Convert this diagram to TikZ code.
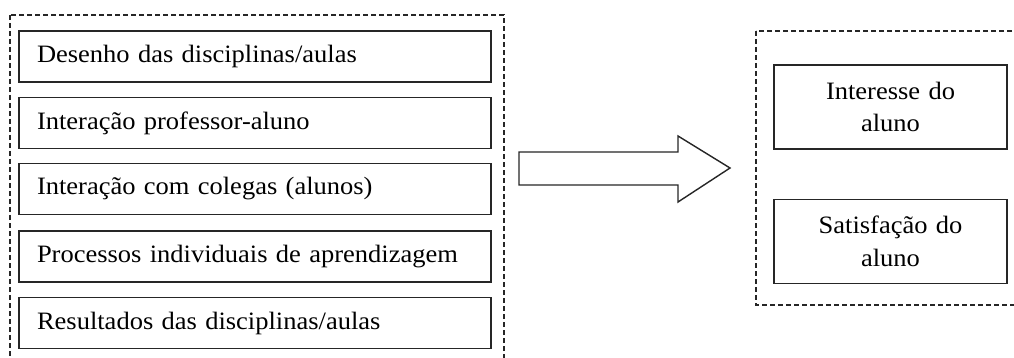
\documentclass[tikz,border=0pt]{standalone}
\usepackage{fontspec}
\setmainfont{Liberation Serif}[FakeStretch=1.06]
\begin{document}
\begin{tikzpicture}[x=1pt,y=-1pt,
  dashbox/.style={draw=black!85, line width=1.2pt, dash pattern=on 5pt off 3pt},
  itembox/.style={draw=black!85, line width=1.4pt, rectangle, minimum width=472pt, minimum height=51pt,
    text width=436pt, align=left, inner sep=0pt, font=\fontsize{25pt}{31pt}\selectfont},
  outbox/.style={draw=black!85, line width=1.4pt, rectangle, minimum width=233pt, minimum height=84pt,
    text width=220pt, align=center, inner sep=0pt, font=\fontsize{25pt}{32.6pt}\selectfont},
  blockarrow/.style={draw=black!85, line width=1.4pt, fill=white, line join=miter}]
\useasboundingbox (0,0) rectangle (1014,358);
\clip (0,0) rectangle (1014,358);
% dashed frames
\draw[dashbox] (10,15) rectangle (504,372);
\draw[dashbox] (756,31) rectangle (1030,305);
% left items
\node[itembox] (d1) at (255,56.5) {Desenho das disciplinas/aulas};
\node[itembox] (d2) at (255,123) {Interação professor-aluno};
\node[itembox] (d3) at (255,189) {Interação com colegas (alunos)};
\node[itembox] (d4) at (255,256.5) {Processos individuais de aprendizagem};
\node[itembox] (d5) at (255,323) {Resultados das disciplinas/aulas};
% right items
\node[outbox] (o1) at (890.5,107) {Interesse do\\aluno};
\node[outbox] (o2) at (890.5,241.5) {Satisfação do\\aluno};
% block arrow
\draw[blockarrow] (519,152) -- (678,152) -- (678,136) -- (730,168) -- (678,202) -- (678,185) -- (519,185) -- cycle;
\end{tikzpicture}
\end{document}
